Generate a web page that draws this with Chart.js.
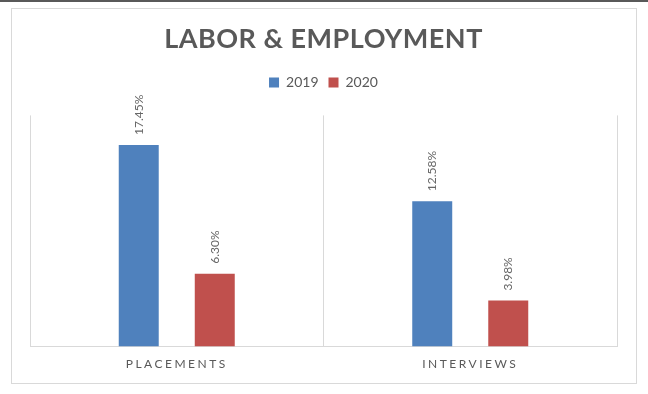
<!DOCTYPE html>
<html>
<head>
<meta charset="utf-8">
<script src="https://cdn.jsdelivr.net/npm/chart.js@4.4.1/dist/chart.umd.min.js"></script>
<style>
  html, body { margin: 0; padding: 0; background: #fff; }
  #topbar { position: absolute; left: 0; top: 0; width: 648px; height: 2px; background: #595959; }
  #frame { position: absolute; left: 11px; top: 8px; width: 626px; height: 376px; border: 1px solid #d9d9d9; box-sizing: border-box; }
  #wrap { position: absolute; left: 0; top: 0; width: 648px; height: 394px; }
</style>
</head>
<body>
<div id="topbar"></div>
<div id="frame"></div>
<div id="wrap"><canvas id="labor-chart" width="648" height="394"></canvas></div>
<script>
// data
var categories = ['PLACEMENTS', 'INTERVIEWS'];
var seriesNames = ['2019', '2020'];
var values2019 = [17.45, 12.58];
var values2020 = [6.30, 3.98];
var yRange = [0, 20]; // value axis is hidden in the original

var gray = '#595959';

// letter spacing for the title and the category labels
var letterSpacing = {
  id: 'letterSpacing',
  beforeDraw: function(chart) {
    var c = chart.ctx;
    var title = chart.titleBlock;
    if (title && !title._spaced) {
      var drawTitle = title.draw;
      title.draw = function() {
        c.save();
        c.letterSpacing = '0.5px';
        drawTitle.apply(this, arguments);
        c.restore();
      };
      title._spaced = true;
    }
    var xScale = chart.scales.x;
    if (xScale && !xScale._spaced) {
      var drawLabels = xScale.drawLabels;
      xScale.drawLabels = function() {
        c.save();
        c.letterSpacing = '2.5px';
        drawLabels.apply(this, arguments);
        c.restore();
      };
      xScale._spaced = true;
    }
  }
};

// rotated value labels above the bars
var valueLabels = {
  id: 'valueLabels',
  afterDatasetsDraw: function(chart) {
    var c = chart.ctx;
    c.save();
    c.font = '12px Lato';
    c.fillStyle = '#666666';
    c.textAlign = 'left';
    c.textBaseline = 'middle';
    chart.data.datasets.forEach(function(ds, i) {
      chart.getDatasetMeta(i).data.forEach(function(bar, j) {
        c.save();
        c.translate(bar.x, bar.y - 10);
        c.rotate(-Math.PI / 2);
        c.fillText(ds.data[j].toFixed(2) + '%', 0, 0);
        c.restore();
      });
    });
    c.restore();
  }
};

var ctx = document.getElementById('labor-chart');
var myChart = new Chart(ctx, {
  type: 'bar',
  data: {
    labels: categories,
    datasets: [{
      label: seriesNames[0],
      data: values2019,
      backgroundColor: '#4f81bd',
      categoryPercentage: 0.518,
      barPercentage: 0.526
    }, {
      label: seriesNames[1],
      data: values2020,
      backgroundColor: '#c0504d',
      categoryPercentage: 0.518,
      barPercentage: 0.526
    }]
  },
  options: {
    responsive: false,
    animation: false,
    layout: {
      padding: { left: 30, right: 31, top: 0, bottom: 13 }
    },
    plugins: {
      title: {
        display: true,
        text: 'LABOR & EMPLOYMENT',
        color: gray,
        font: { family: 'Lato', size: 27, weight: 'bold', lineHeight: 1.2 },
        padding: { top: 23, bottom: 10 }
      },
      // empty spacer between the legend and the plot
      subtitle: {
        display: true,
        text: '',
        weight: 500,
        font: { size: 10, lineHeight: 1.2 },
        padding: { top: 4, bottom: 0 }
      },
      legend: {
        position: 'top',
        labels: {
          boxWidth: 10,
          boxHeight: 10,
          padding: 10,
          color: gray,
          font: { family: 'Lato', size: 14 }
        }
      },
      tooltip: { enabled: false }
    },
    scales: {
      x: {
        grid: { color: '#d9d9d9', drawTicks: false, offset: true },
        border: { color: '#d9d9d9' },
        ticks: {
          color: gray,
          padding: 10,
          font: { family: 'Lato', size: 12 }
        }
      },
      y: {
        display: false,
        min: yRange[0],
        max: yRange[1]
      }
    }
  },
  plugins: [letterSpacing, valueLabels]
});
</script>
</body>
</html>
